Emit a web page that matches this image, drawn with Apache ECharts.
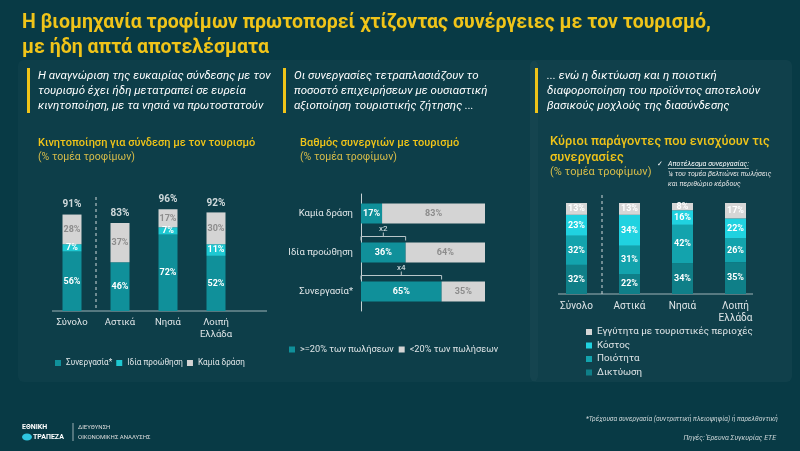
<!DOCTYPE html>
<html>
<head>
<meta charset="utf-8">
<script src="https://cdn.jsdelivr.net/npm/echarts@6/dist/echarts.min.js"></script>
<style>
html,body{margin:0;padding:0;background:#083a45;}
#main{width:800px;height:451px;}
</style>
</head>
<body>
<div id="main"></div>
<script>
var chart = echarts.init(document.getElementById("main"));

// chart 1: mobilisation
var cats1 = ['Σύνολο', 'Αστικά', 'Νησιά', 'Λοιπή\nΕλλάδα'];
var coop1 = [56, 46, 72, 52];
var own1 = [7, 0, 7, 11];
var none1 = [28, 37, 17, 30];
var total1 = [91, 83, 96, 92];

// chart 2: degree of synergy
var cats2 = ['Καμία δράση', 'Ιδία προώθηση', 'Συνεργασία*'];
var high2 = [17, 36, 65];
var low2 = [83, 64, 35];
var mult2 = ['', 'x2', 'x4'];

// chart 3: main factors
var cats3 = ['Σύνολο', 'Αστικά', 'Νησιά', 'Λοιπή\nΕλλάδα'];
var network3 = [32, 22, 34, 35];
var quality3 = [32, 31, 42, 26];
var cost3 = [23, 34, 16, 22];
var near3 = [13, 13, 8, 17];

var FONT = 'Roboto, "Noto Sans", sans-serif';
var YEL = '#f0c419';
var TEAL = '#10909a', CYAN = '#1ec8d2', GREY = '#d4d4d4';

function pct(c){
	return {show:true, position:'inside', color:c, fontSize:9, fontWeight:'bold', fontFamily:FONT,
		formatter:function(p){ return p.value ? p.value + '%' : ''; }};
}

function txt(x, y, s, o){
	o = o || {};
	return {type:'text', x:x, y:y, silent:true, style:{
		text:s, fill:o.fill || '#ffffff', font:o.font || ('10px ' + FONT),
		align:o.align || 'left', verticalAlign:'middle'}};
}

var graphics = [
	{type:'rect', shape:{x:18, y:60, width:520, height:322, r:6}, style:{fill:'rgba(255,255,255,0.025)'}},
	{type:'rect', shape:{x:530, y:60, width:262, height:322, r:6}, style:{fill:'rgba(255,255,255,0.035)'}},
	txt(22, 23, 'Η βιομηχανία τροφίμων πρωτοπορεί χτίζοντας συνέργειες με τον τουρισμό,', {fill:YEL, font:'bold 19.5px "Liberation Sans Narrow", ' + FONT}),
	txt(22, 48, 'με ήδη απτά αποτελέσματα', {fill:YEL, font:'bold 19.5px "Liberation Sans Narrow", ' + FONT}),
	{type:'rect', shape:{x:27, y:68, width:3, height:45}, style:{fill:YEL}},
	{type:'rect', shape:{x:283, y:68, width:3, height:45}, style:{fill:YEL}},
	{type:'rect', shape:{x:535, y:68, width:3, height:45}, style:{fill:YEL}},
	// chart titles
	txt(38, 143, 'Κινητοποίηση για σύνδεση με τον τουρισμό', {fill:YEL, font:'500 11px ' + FONT}),
	txt(38, 157, '(% τομέα τροφίμων)', {fill:'#d8bd4a', font:'10.5px ' + FONT}),
	txt(300, 143, 'Βαθμός συνεργιών με τουρισμό', {fill:YEL, font:'500 11px ' + FONT}),
	txt(300, 157, '(% τομέα τροφίμων)', {fill:'#d8bd4a', font:'10.5px ' + FONT}),
	txt(550, 142, 'Κύριοι παράγοντες που ενισχύουν τις', {fill:YEL, font:'500 12.8px ' + FONT}),
	txt(550, 158, 'συνεργασίες', {fill:YEL, font:'500 12.8px ' + FONT}),
	txt(550, 172, '(% τομέα τροφίμων)', {fill:'#d8bd4a', font:'11px ' + FONT}),
	txt(657, 164, '✓', {font:'7px ' + FONT}),
	txt(668, 164, 'Αποτέλεσμα συνεργασίας:', {font:'italic 7px ' + FONT}),
	{type:'line', shape:{x1:668, y1:168.5, x2:749, y2:168.5}, style:{stroke:'#ffffff', lineWidth:0.6}},
	txt(668, 174, '¼ του τομέα βελτιώνει πωλήσεις', {font:'italic 7px ' + FONT, fill:'#e6e6e6'}),
	txt(668, 184, 'και περιθώριο κέρδους', {font:'italic 7px ' + FONT, fill:'#e6e6e6'}),
	// axis lines and separators
	{type:'line', shape:{x1:52, y1:311, x2:267, y2:311}, style:{stroke:'#9fb3b8', lineWidth:1}},
	{type:'line', shape:{x1:96, y1:197, x2:96, y2:311}, style:{stroke:'#d0d8da', lineWidth:1, lineDash:[3, 3]}},
	{type:'line', shape:{x1:558, y1:294, x2:753, y2:294}, style:{stroke:'#9fb3b8', lineWidth:1}},
	{type:'line', shape:{x1:602, y1:195, x2:602, y2:294}, style:{stroke:'#d0d8da', lineWidth:1, lineDash:[3, 3]}},
	// footer
	txt(778, 419, '*Τρέχουσα συνεργασία (συντριπτική πλειοψηφία) ή παρελθοντική', {font:'italic 6.6px ' + FONT, fill:'#cfd8da', align:'right'}),
	txt(776, 438, 'Πηγές: Έρευνα Συγκυρίας ΕΤΕ', {font:'italic 7px ' + FONT, fill:'#cfd8da', align:'right'}),
	{type:'ellipse', shape:{cx:27, cy:437, rx:5, ry:3.5}, style:{fill:'#2fc6e0'}},
	txt(22, 427, 'ΕΘΝΙΚΗ', {font:'bold 7px ' + FONT}),
	txt(33, 437, 'ΤΡΑΠΕΖΑ', {font:'bold 7px ' + FONT}),
	{type:'line', shape:{x1:73, y1:423, x2:73, y2:441}, style:{stroke:'#ffffff', lineWidth:0.6}},
	txt(78, 427, 'ΔΙΕΥΘΥΝΣΗ', {font:'6px ' + FONT, fill:'#dddddd'}),
	txt(78, 437, 'ΟΙΚΟΝΟΜΙΚΗΣ ΑΝΑΛΥΣΗΣ', {font:'6px ' + FONT, fill:'#dddddd'})
];

var sub = [
	['Η αναγνώριση της ευκαιρίας σύνδεσης με τον', 'τουρισμό έχει ήδη μετατραπεί σε ευρεία', 'κινητοποίηση, με τα νησιά να πρωτοστατούν'],
	['Οι συνεργασίες τετραπλασιάζουν το', 'ποσοστό επιχειρήσεων με ουσιαστική', 'αξιοποίηση τουριστικής ζήτησης ...'],
	['... ενώ η δικτύωση και η ποιοτική', 'διαφοροποίηση του προϊόντος αποτελούν', 'βασικούς μοχλούς της διασύνδεσης']
];
var subX = [38, 294, 547];
sub.forEach(function(lines, i){
	lines.forEach(function(l, j){
		graphics.push(txt(subX[i], 76 + j * 15, l, {font:'italic 11.5px ' + FONT}));
	});
});

var legText = {color:'#dfe5e7', fontFamily:FONT};

var option = {
	backgroundColor:'#083a45',
	animation:false,
	grid:[
		{left:48, top:205, width:192, height:106},
		{left:361, top:194, width:124, height:117},
		{left:550, top:203, width:212, height:91}
	],
	xAxis:[
		{type:'category', gridIndex:0, data:cats1, axisLine:{show:false}, axisTick:{show:false},
			axisLabel:{color:'#e0e6e8', fontSize:9.5, fontFamily:FONT, margin:6, lineHeight:12}},
		{type:'value', gridIndex:1, min:0, max:100, show:false},
		{type:'category', gridIndex:2, data:cats3, axisLine:{show:false}, axisTick:{show:false},
			axisLabel:{color:'#e0e6e8', fontSize:10, fontFamily:FONT, margin:6, lineHeight:12}}
	],
	yAxis:[
		{type:'value', gridIndex:0, min:0, max:100, show:false},
		{type:'category', gridIndex:1, data:cats2, inverse:true, axisLine:{lineStyle:{color:'#c8d2d4'}},
			axisTick:{show:false}, axisLabel:{color:'#e0e6e8', fontSize:9.5, fontFamily:FONT, margin:8}},
		{type:'value', gridIndex:2, min:0, max:100, show:false}
	],
	legend:[
		{left:50, top:354, itemWidth:6, itemHeight:6, itemGap:4, icon:'rect',
			textStyle:Object.assign({fontSize:8.2}, legText),
			data:['Συνεργασία*', 'Ιδία προώθηση', 'Καμία δράση']},
		{left:284, top:340, itemWidth:6, itemHeight:6, itemGap:5, icon:'rect',
			textStyle:Object.assign({fontSize:9.2}, legText),
			data:['>=20% των πωλήσεων', '<20% των πωλήσεων']},
		{left:581, top:322, orient:'vertical', itemWidth:6, itemHeight:6, itemGap:3.5, icon:'rect',
			textStyle:Object.assign({fontSize:9.8}, legText),
			data:['Εγγύτητα με τουριστικές περιοχές', 'Κόστος', 'Ποιότητα', 'Δικτύωση']}
	],
	graphic:graphics,
	series:[
		{name:'Συνεργασία*', type:'bar', stack:'s1', xAxisIndex:0, yAxisIndex:0, barWidth:19, data:coop1, itemStyle:{color:TEAL}, label:pct('#ffffff')},
		{name:'Ιδία προώθηση', type:'bar', stack:'s1', xAxisIndex:0, yAxisIndex:0, data:own1, itemStyle:{color:CYAN}, label:pct('#ffffff')},
		{name:'Καμία δράση', type:'bar', stack:'s1', xAxisIndex:0, yAxisIndex:0, data:none1, itemStyle:{color:GREY}, label:pct('#8c8c8c')},
		{name:'total1', type:'scatter', xAxisIndex:0, yAxisIndex:0, symbolSize:0, data:total1, silent:true,
			label:{show:true, position:'top', distance:5, color:'#ffffff', fontSize:10, fontWeight:'bold', fontFamily:FONT, formatter:'{c}%'}},

		{name:'>=20% των πωλήσεων', type:'bar', stack:'s2', xAxisIndex:1, yAxisIndex:1, barWidth:20, data:high2, itemStyle:{color:TEAL}, label:pct('#ffffff')},
		{name:'<20% των πωλήσεων', type:'bar', stack:'s2', xAxisIndex:1, yAxisIndex:1, data:low2, itemStyle:{color:GREY}, label:pct('#8c8c8c')},
		{name:'brackets', type:'custom', xAxisIndex:1, yAxisIndex:1, silent:true,
			data:high2.map(function(v, i){ return [v, i, mult2[i]]; }).filter(function(d){ return d[2]; }),
			renderItem:function(params, api){
				var a = api.coord([0, api.value(1)]);
				var b = api.coord([api.value(0), api.value(1)]);
				var y = a[1] - 16, m = (a[0] + b[0]) / 2;
				var st = {stroke:'#b9c6c9', lineWidth:1};
				return {type:'group', children:[
					{type:'line', shape:{x1:a[0], y1:y, x2:b[0], y2:y}, style:st},
					{type:'line', shape:{x1:a[0], y1:y, x2:a[0], y2:y + 4}, style:st},
					{type:'line', shape:{x1:b[0], y1:y, x2:b[0], y2:y + 4}, style:st},
					{type:'line', shape:{x1:m, y1:y, x2:m, y2:y - 4}, style:st},
					{type:'text', style:{x:m, y:y - 8, text:api.value(2), fill:'#e8eef0', font:'8px ' + FONT, align:'center', verticalAlign:'middle'}}
				]};
			}},

		{name:'Δικτύωση', type:'bar', stack:'s3', xAxisIndex:2, yAxisIndex:2, barWidth:21, data:network3, itemStyle:{color:'#0f7f88'}, label:pct('#ffffff')},
		{name:'Ποιότητα', type:'bar', stack:'s3', xAxisIndex:2, yAxisIndex:2, data:quality3, itemStyle:{color:'#13a3ad'}, label:pct('#ffffff')},
		{name:'Κόστος', type:'bar', stack:'s3', xAxisIndex:2, yAxisIndex:2, data:cost3, itemStyle:{color:'#20d2e0'}, label:pct('#ffffff')},
		{name:'Εγγύτητα με τουριστικές περιοχές', type:'bar', stack:'s3', xAxisIndex:2, yAxisIndex:2, data:near3, itemStyle:{color:'#d6d6d6'}, label:pct('#ffffff')}
	]
};
chart.setOption(option);
</script>
</body>
</html>
